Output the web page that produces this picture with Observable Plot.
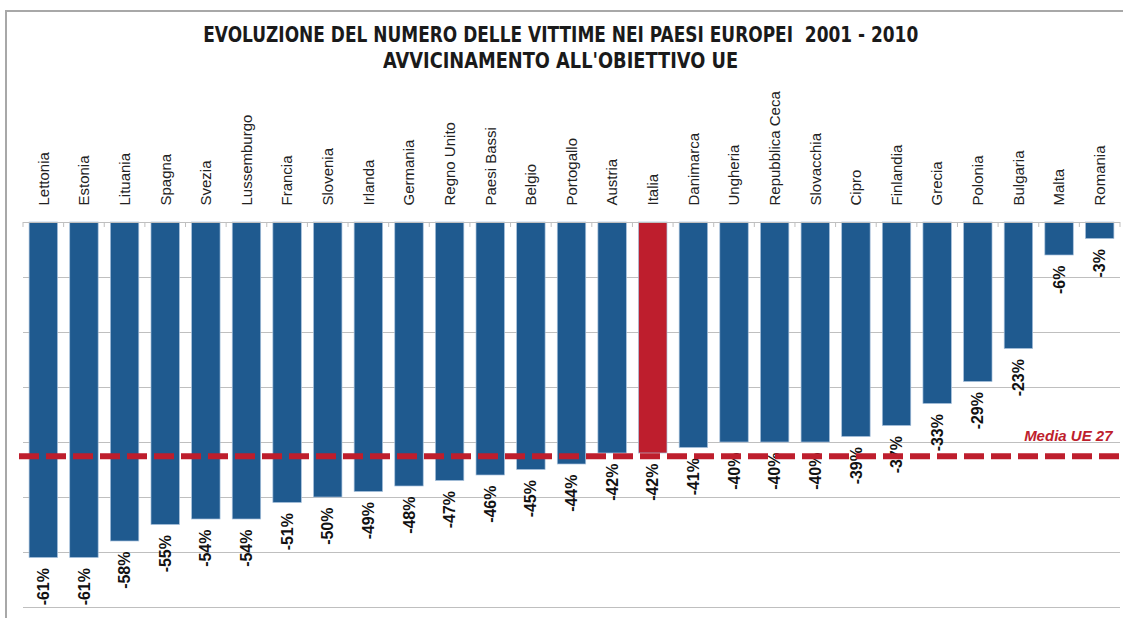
<!DOCTYPE html>
<html><head><meta charset="utf-8">
<script src="https://cdn.jsdelivr.net/npm/d3@7"></script>
<script src="https://cdn.jsdelivr.net/npm/@observablehq/plot@0.6"></script>
<style>
body{margin:0;background:#fff;width:1123px;height:618px;overflow:hidden;position:relative;}
#frame{position:absolute;left:5px;top:10px;width:1118px;height:608px;border-left:2px solid #a8a8a8;border-top:2px solid #a8a8a8;box-sizing:border-box;}
#title{position:absolute;left:0;top:0;width:1121px;height:75px;font-family:"Liberation Sans Narrow","DejaVu Sans Condensed","Liberation Sans",sans-serif;font-weight:bold;color:#1a1a1a;}
.t{position:absolute;left:0;width:1121px;text-align:center;font-size:21px;line-height:21px;white-space:pre;}
.t span{display:inline-block;transform-origin:center;}
#chart{position:absolute;left:0;top:75px;}
</style></head>
<body>
<div id="frame"></div>
<div id="title">
  <div class="t" id="t1" style="top:25px"><span>EVOLUZIONE DEL NUMERO DELLE VITTIME NEI PAESI EUROPEI  2001 - 2010</span></div>
  <div class="t" id="t2" style="top:51px"><span>AVVICINAMENTO ALL'OBIETTIVO UE</span></div>
</div>
<div id="chart"></div>
<script>
const countries = ["Lettonia","Estonia","Lituania","Spagna","Svezia","Lussemburgo","Francia","Slovenia","Irlanda","Germania","Regno Unito","Paesi Bassi","Belgio","Portogallo","Austria","Italia","Danimarca","Ungheria","Repubblica Ceca","Slovacchia","Cipro","Finlandia","Grecia","Polonia","Bulgaria","Malta","Romania"];
const values = [-61,-61,-58,-55,-54,-54,-51,-50,-49,-48,-47,-46,-45,-44,-42,-42,-41,-40,-40,-40,-39,-37,-33,-29,-23,-6,-3];
const highlight = "Italia";
const mediaUE = -42.5;
const mediaLabel = "Media UE 27";
const gridTicks = [-10,-20,-30,-40,-50,-60,-70];

const blue = "#1f5a8f", red = "#be1e2d", grid = "#bfbfbf";
const data = countries.map((c, i) => ({country: c, value: values[i]}));

const boundaryTicks = (index, scales) => {
  const x = scales.x, y = scales.y;
  const bw = typeof x.bandwidth === "function" ? x.bandwidth() : x.bandwidth;
  const step = x(countries[1]) - x(countries[0]);
  const gap = (step - bw) / 2;
  const xs = countries.map(c => x(c) - gap).concat([x(countries[countries.length - 1]) + bw + gap]);
  const y0 = y(0);
  const g = d3.create("svg:g");
  g.selectAll("line").data(xs).join("line")
    .attr("x1", d => d).attr("x2", d => d)
    .attr("y1", y0).attr("y2", y0 + 5)
    .attr("stroke", grid);
  return g.node();
};

const chart = Plot.plot({
  width: 1123, height: 543,
  marginTop: 147, marginBottom: 11, marginLeft: 23, marginRight: 3,
  x: {type: "band", domain: countries, paddingInner: 0.3, paddingOuter: 0.15, round: false},
  y: {domain: [-70, 0], axis: null},
  style: {fontFamily: "'Liberation Sans', Arial, sans-serif", background: "transparent", overflow: "visible"},
  marks: [
    Plot.ruleY(gridTicks, {stroke: grid, strokeWidth: 1}),
    Plot.barY(data, {x: "country", y: "value", fill: d => d.country === highlight ? red : blue, stroke: "#a7c1dc", strokeWidth: 0.7}),
    Plot.ruleY([0], {stroke: grid, strokeWidth: 1}),
    boundaryTicks,
    Plot.axisX({anchor: "top", tickRotate: -90, tickSize: 0, tickPadding: 17, fontSize: 15, label: null, fill: "#222"}),
    Plot.text(data, {x: "country", y: "value", text: d => d.value + "%", rotate: -90, textAnchor: "end", dy: 10, fontWeight: "bold", fontSize: 16, fill: "#111"}),
    Plot.ruleY([mediaUE], {stroke: red, strokeWidth: 6, strokeDasharray: "20,7", insetLeft: -4, insetRight: -3}),
    Plot.text([mediaLabel], {text: d => d, y: () => mediaUE, frameAnchor: "right", textAnchor: "end", dx: -8, dy: -20, fill: red, fontWeight: "bold", fontStyle: "italic", fontSize: 15})
  ]
});
document.getElementById("chart").appendChild(chart);

function fit(id, target) {
  const s = document.querySelector("#" + id + " span");
  const w = s.getBoundingClientRect().width;
  s.style.transform = "scaleX(" + (target / w) + ")";
}
fit("t1", 715);
fit("t2", 355);
</script>
</body></html>
